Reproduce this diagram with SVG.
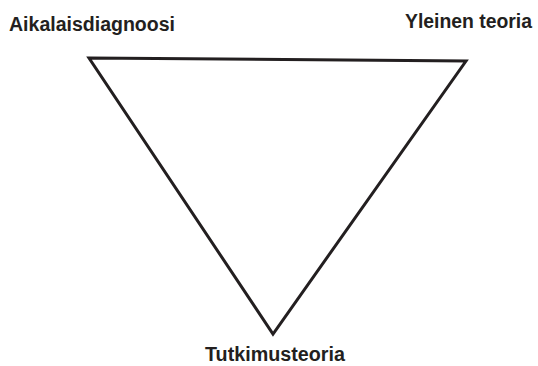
<svg xmlns="http://www.w3.org/2000/svg" width="538" height="366" viewBox="0 0 538 366">
<style>
.lbl{font-family:"Liberation Sans","DejaVu Sans",sans-serif;font-weight:bold;font-size:20px;fill:#231f20}
.edge{fill:none;stroke:#231f20;stroke-width:3;stroke-linejoin:miter}
</style>
<rect width="538" height="366" fill="#fff"/>
<g id="connectors">
<polygon class="edge" points="89,58 466,61 273,334"/>
</g>
<g id="aikalaisdiagnoosi"><text class="lbl" x="9" y="31" textLength="166" lengthAdjust="spacingAndGlyphs">Aikalaisdiagnoosi</text></g>
<g id="yleinen-teoria"><text class="lbl" x="405" y="28" textLength="127" lengthAdjust="spacingAndGlyphs">Yleinen teoria</text></g>
<g id="tutkimusteoria"><text class="lbl" x="205" y="361" textLength="140" lengthAdjust="spacingAndGlyphs">Tutkimusteoria</text></g>
</svg>
